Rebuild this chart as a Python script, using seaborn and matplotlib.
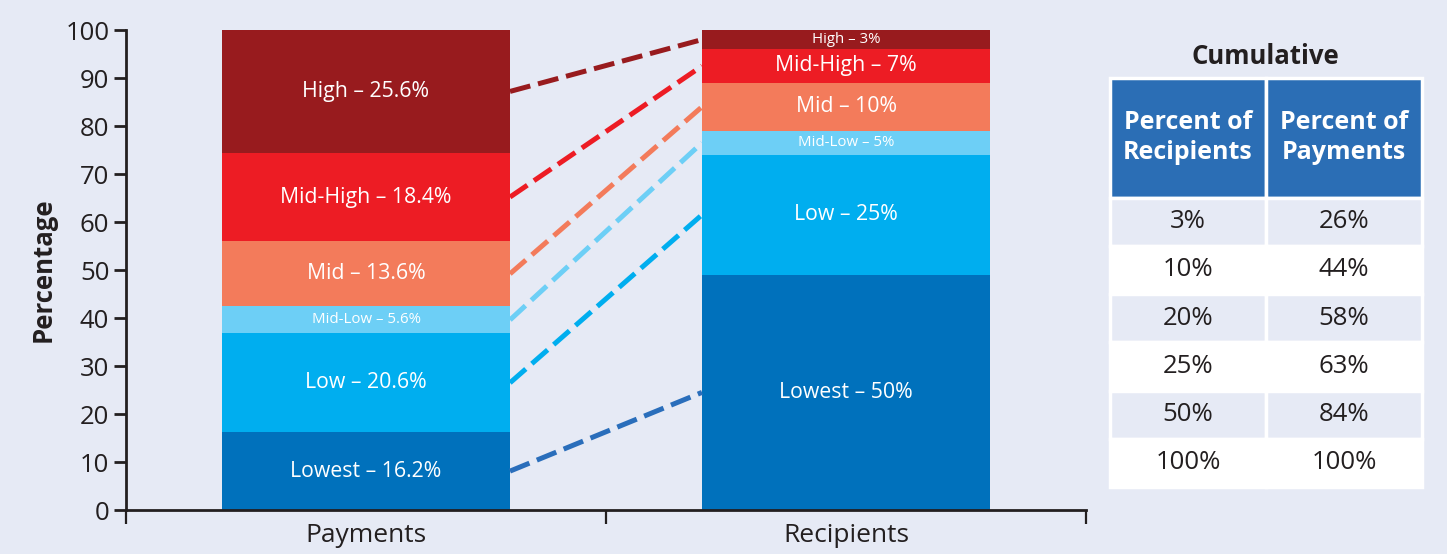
import pandas as pd
import seaborn as sns
import matplotlib.pyplot as plt

# ---------------- data ----------------
bars = ['Payments', 'Recipients']
groups = ['Lowest', 'Low', 'Mid-Low', 'Mid', 'Mid-High', 'High']
payments = [16.2, 20.6, 5.6, 13.6, 18.4, 25.6]
recipients = [49, 25, 5, 10, 7, 4]
payment_labels = ['Lowest – 16.2%', 'Low – 20.6%', 'Mid-Low – 5.6%',
                  'Mid – 13.6%', 'Mid-High – 18.4%', 'High – 25.6%']
recipient_labels = ['Lowest – 50%', 'Low – 25%', 'Mid-Low – 5%',
                    'Mid – 10%', 'Mid-High – 7%', 'High – 3%']
colors = ['#0071bc', '#00aeef', '#6dcff6', '#f37b5b', '#ed1c24', '#981b1e']
line_colors = ['#2a6ebb', '#00aeef', '#6dcff6', '#f37b5b', '#ed1c24', '#981b1e']

table_header = ['Percent of\nRecipients', 'Percent of\nPayments']
cum_recipients = ['3%', '10%', '20%', '25%', '50%', '100%']
cum_payments = ['26%', '44%', '58%', '63%', '84%', '100%']

BG = '#e6eaf5'
INK = '#231f20'

# ---------------- prep ----------------
df = pd.DataFrame({
    'bar': ['Payments'] * 6 + ['Recipients'] * 6,
    'group': groups * 2,
    'value': payments + recipients,
    'label': payment_labels + recipient_labels,
})
df['top'] = df.groupby('bar')['value'].cumsum()
df['mid'] = df['top'] - df['value'] / 2

sns.set_style("ticks")
plt.rcParams['font.family'] = ['Open Sans', 'DejaVu Sans']

fig = plt.figure(figsize=(14.47, 5.54), dpi=100, facecolor=BG)
ax = fig.add_axes([126 / 1447, 44 / 554, 960 / 1447, 480 / 554])
ax.set_facecolor(BG)

# stacked bars: draw cumulative totals from the top down
for i in reversed(range(len(groups))):
    sub = df[df['group'] == groups[i]]
    sns.barplot(data=sub, x='bar', y='top', order=bars, color=colors[i],
                saturation=1, width=0.6, linewidth=0, errorbar=None, ax=ax)

# labels inside segments
for _, row in df.iterrows():
    xpos = bars.index(row['bar'])
    small = row['value'] < 6
    ax.text(xpos, row['mid'], row['label'], ha='center', va='center',
            color='white', fontsize=10.8 if small else 15.3)

# dashed connectors between segment midpoints
for i, g in enumerate(groups):
    y0 = df[(df['bar'] == 'Payments') & (df['group'] == g)]['mid'].iloc[0]
    y1 = df[(df['bar'] == 'Recipients') & (df['group'] == g)]['mid'].iloc[0]
    ax.plot([0.3, 0.7], [y0, y1], color=line_colors[i], lw=3.6,
            linestyle=(0, (4.2, 1.6)), solid_capstyle='butt')

ax.set_xlim(-0.5, 1.5)
ax.set_ylim(0, 100)
ax.set_yticks(range(0, 101, 10))
ax.set_xticks([0, 1])
ax.set_xticks([-0.5, 0.5, 1.5], minor=True)
ax.tick_params(axis='x', which='major', length=0, labelsize=19, colors=INK, pad=9)
ax.tick_params(axis='x', which='minor', length=10, width=1.6, color=INK)
ax.tick_params(axis='y', length=9, width=2, labelsize=18.5, colors=INK, pad=3)
ax.set_xlabel('')
ax.set_ylabel('Percentage', fontsize=18.5, fontweight='bold', color=INK, labelpad=6)
for s in ['top', 'right']:
    ax.spines[s].set_visible(False)
for s in ['left', 'bottom']:
    ax.spines[s].set_linewidth(2)
    ax.spines[s].set_color(INK)

# ---------------- cumulative table ----------------
fig.text(1265 / 1447, 1 - 57 / 554, 'Cumulative', ha='center', va='center',
         fontsize=18.5, fontweight='bold', color=INK)

tax = fig.add_axes([1110 / 1447, (554 - 487) / 554, 312 / 1447, (487 - 78) / 554])
tax.axis('off')
cell_text = [[r, p] for r, p in zip(cum_recipients, cum_payments)]
tbl = tax.table(cellText=cell_text, colLabels=table_header,
                cellLoc='center', bbox=[0, 0, 1, 1])
tbl.auto_set_font_size(False)
for (r, c), cell in tbl.get_celld().items():
    cell.set_edgecolor('white')
    cell.set_linewidth(2.5)
    if r == 0:
        cell.set_height(119)
        cell.set_facecolor('#2b6eb5')
        cell.get_text().set_color('white')
        cell.get_text().set_fontsize(18)
        cell.get_text().set_fontweight('bold')
        cell.get_text().set_linespacing(1.25)
    else:
        cell.set_height(48)
        cell.set_facecolor(BG if r % 2 == 1 else 'white')
        cell.get_text().set_color(INK)
        cell.get_text().set_fontsize(18.5)

fig.savefig('out.png', dpi=100, facecolor=BG)
